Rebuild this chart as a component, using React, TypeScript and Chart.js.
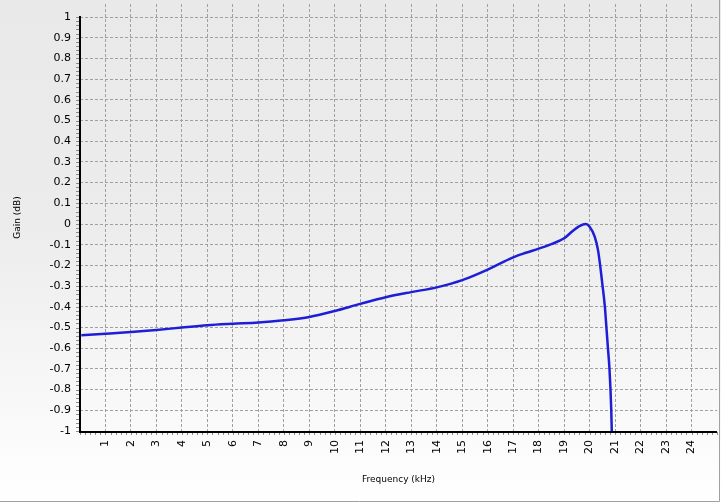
import React, { useEffect, useRef } from "react";
import { Chart, registerables } from "chart.js";

Chart.register(...registerables);

// Frequency response samples
const freqKHz = [
  0.05, 1, 2, 3, 4, 5, 6, 7, 8, 9, 10, 11, 12, 13, 14, 15, 16, 16.5, 17, 17.5,
  18, 18.5, 19, 19.35, 19.6, 19.85, 20.0, 20.2, 20.33, 20.42, 20.5, 20.6, 20.66,
  20.72, 20.78, 20.82, 20.85, 20.87,
];
const gainDB = [
  -0.537, -0.53, -0.522, -0.512, -0.5, -0.489, -0.482, -0.476, -0.465, -0.449,
  -0.42, -0.386, -0.354, -0.329, -0.306, -0.271, -0.22, -0.19, -0.161, -0.139,
  -0.119, -0.097, -0.069, -0.032, -0.01, 0.0, -0.013, -0.061, -0.126, -0.206,
  -0.29, -0.4, -0.5, -0.6, -0.7, -0.8, -0.9, -1.0,
];
const xTickValues = [1, 2, 3, 4, 5, 6, 7, 8, 9, 10, 11, 12, 13, 14, 15, 16, 17, 18, 19, 20, 21, 22, 23, 24];
const yTickValues = [-1, -0.9, -0.8, -0.7, -0.6, -0.5, -0.4, -0.3, -0.2, -0.1, 0, 0.1, 0.2, 0.3, 0.4, 0.5, 0.6, 0.7, 0.8, 0.9, 1];
const xTitle = "Frequency (kHz)";
const yTitle = "Gain (dB)";

const X_MIN = 0;
const X_MAX = 25;
const Y_MIN = -1;
const Y_MAX = 1.063;

const bgPlugin = {
  id: "bgPlugin",
  beforeDraw(chart: any) {
    const { ctx, width, height } = chart;
    ctx.save();
    const g = ctx.createLinearGradient(0, 0, 0, height);
    g.addColorStop(0, "#e9e9e9");
    g.addColorStop(0.45, "#ececec");
    g.addColorStop(1, "#ffffff");
    ctx.fillStyle = g;
    ctx.fillRect(0, 0, width, height);
    ctx.strokeStyle = "#a0a0a0";
    ctx.lineWidth = 1;
    ctx.beginPath();
    ctx.moveTo(width - 1.5, 0);
    ctx.lineTo(width - 1.5, height - 0.5);
    ctx.lineTo(0, height - 0.5);
    ctx.stroke();
    ctx.restore();
  },
};

const axisPlugin = {
  id: "axisPlugin",
  afterDatasetsDraw(chart: any) {
    const { ctx } = chart;
    const xs = chart.scales.x;
    const ys = chart.scales.y;
    const left = chart.chartArea.left;
    const right = chart.chartArea.right;
    const bottom = chart.chartArea.bottom;
    const yTop = ys.getPixelForValue(yTickValues[yTickValues.length - 1]);
    ctx.save();
    // minor ticks
    ctx.strokeStyle = "#8c8c8c";
    ctx.lineWidth = 1;
    ctx.beginPath();
    for (let i = 0; i <= 100; i++) {
      const v = Y_MIN + i * 0.02;
      const py = Math.round(ys.getPixelForValue(v)) + 0.5;
      ctx.moveTo(left - 4, py);
      ctx.lineTo(left - 1, py);
    }
    for (let i = 0; i <= 125; i++) {
      const v = X_MIN + i * 0.2;
      const px = Math.round(xs.getPixelForValue(v)) + 0.5;
      ctx.moveTo(px, bottom + 1);
      ctx.lineTo(px, bottom + 4);
    }
    ctx.stroke();
    // axis lines
    ctx.strokeStyle = "#000000";
    ctx.lineWidth = 2;
    ctx.beginPath();
    ctx.moveTo(left, yTop - 1);
    ctx.lineTo(left, bottom + 1);
    ctx.lineTo(right, bottom + 1);
    ctx.stroke();
    ctx.restore();
  },
};

export default function App() {
  const canvasRef = useRef<HTMLCanvasElement | null>(null);

  useEffect(() => {
    document.body.style.margin = "0";
    const canvas = canvasRef.current;
    if (!canvas) return;
    const points = freqKHz.map((f, i) => ({ x: f, y: gainDB[i] }));
    const chart = new Chart(canvas, {
      type: "line",
      data: {
        datasets: [
          {
            data: points,
            borderColor: "rgb(30,30,215)",
            borderWidth: 2.5,
            pointRadius: 0,
            fill: false,
            cubicInterpolationMode: "monotone",
          },
        ],
      },
      options: {
        responsive: false,
        animation: false,
        events: [],
        layout: { padding: { left: 0, top: 4, right: 4, bottom: 1 } },
        plugins: {
          legend: { display: false },
          tooltip: { enabled: false },
          title: { display: false },
        },
        scales: {
          x: {
            type: "linear",
            min: X_MIN,
            max: X_MAX,
            afterBuildTicks: (scale: any) => {
              scale.ticks = xTickValues.map((v) => ({ value: v }));
            },
            afterFit: (scale: any) => {
              scale.height = 70;
              scale.paddingLeft = 0;
              scale.paddingRight = 0;
            },
            ticks: {
              autoSkip: false,
              minRotation: 90,
              maxRotation: 90,
              padding: 9,
              color: "#000",
              font: { family: "'DejaVu Sans'", size: 11 },
              callback: (v: any) => String(v),
            },
            grid: {
              color: "#a0a0a0",
              lineWidth: 1,
              drawTicks: false,
            },
            border: { display: false, dash: [3, 2] },
            title: {
              display: true,
              text: xTitle,
              color: "#000",
              font: { family: "'DejaVu Sans'", size: 9 },
              padding: { top: 0, bottom: 16 },
            },
          },
          y: {
            type: "linear",
            min: Y_MIN,
            max: Y_MAX,
            afterBuildTicks: (scale: any) => {
              scale.ticks = yTickValues.map((v) => ({ value: v }));
            },
            afterFit: (scale: any) => {
              scale.width = 80;
              scale.paddingTop = 0;
              scale.paddingBottom = 0;
            },
            ticks: {
              autoSkip: false,
              padding: 9,
              color: "#000",
              font: { family: "'DejaVu Sans'", size: 11 },
              callback: (v: any) => String(Number(Number(v).toFixed(1))),
            },
            grid: {
              color: "#a0a0a0",
              lineWidth: 1,
              drawTicks: false,
            },
            border: { display: false, dash: [3, 2] },
            title: {
              display: true,
              text: yTitle,
              color: "#000",
              font: { family: "'DejaVu Sans'", size: 9 },
              padding: { top: 12, bottom: 0 },
            },
          },
        },
      },
      plugins: [bgPlugin, axisPlugin],
    } as any);
    return () => chart.destroy();
  }, []);

  return (
    <div style={{ width: 721, height: 502 }}>
      <canvas ref={canvasRef} width={721} height={502} style={{ display: "block" }} />
    </div>
  );
}
